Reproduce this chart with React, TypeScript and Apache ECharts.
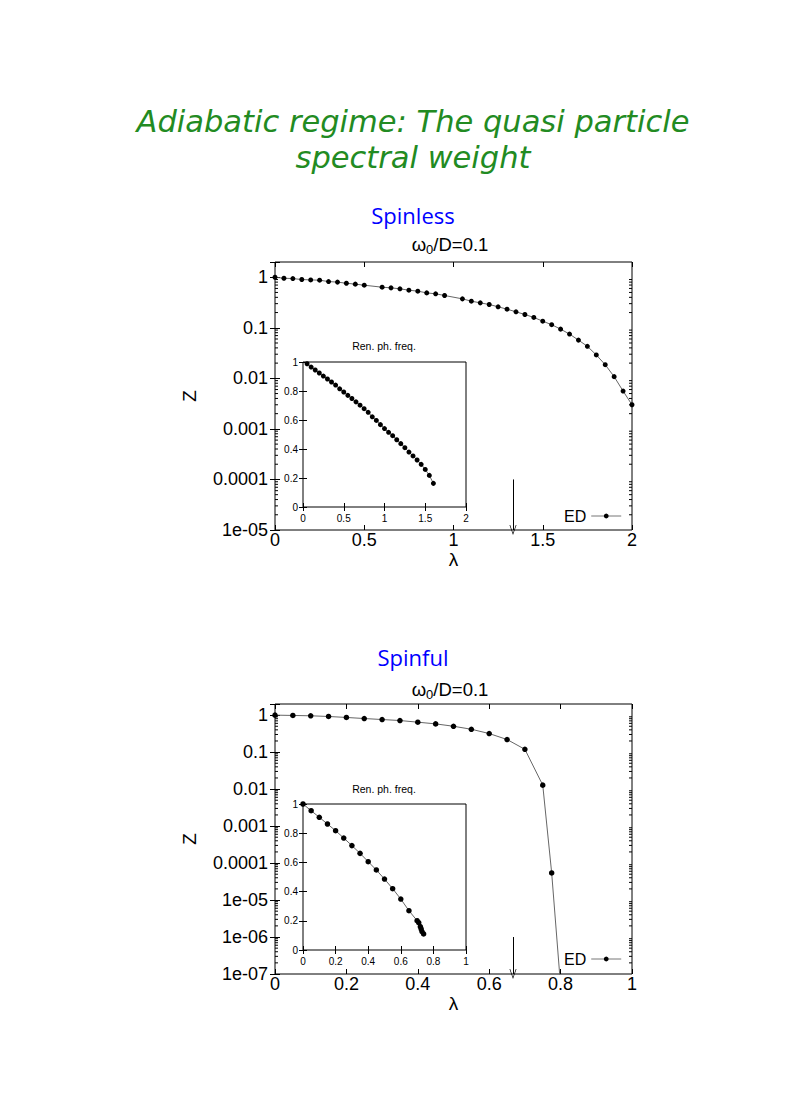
import React, { useEffect, useRef } from 'react';
import * as echarts from 'echarts';

// ---------- data ----------
const topMainLambda = [0, 0.05, 0.1, 0.15, 0.2, 0.25, 0.3, 0.35, 0.4, 0.45, 0.5, 0.6, 0.65, 0.7, 0.75, 0.8, 0.85, 0.9, 0.95, 1.05, 1.1, 1.15, 1.2, 1.25, 1.3, 1.35, 1.4, 1.45, 1.5, 1.55, 1.6, 1.65, 1.7, 1.75, 1.8, 1.85, 1.9, 1.95, 2.0];
const topMainZ = [1.0, 0.955, 0.94, 0.9, 0.885, 0.873, 0.82, 0.8, 0.76, 0.73, 0.695, 0.635, 0.616, 0.589, 0.554, 0.53, 0.49, 0.469, 0.435, 0.373, 0.336, 0.311, 0.289, 0.26, 0.233, 0.207, 0.183, 0.16, 0.135, 0.115, 0.094, 0.075, 0.057, 0.043, 0.029, 0.0186, 0.0108, 0.0056, 0.003];

const topInsetLambda = [0.05, 0.1, 0.15, 0.2, 0.25, 0.3, 0.35, 0.4, 0.45, 0.5, 0.55, 0.6, 0.65, 0.7, 0.75, 0.8, 0.85, 0.9, 0.95, 1.0, 1.05, 1.1, 1.15, 1.2, 1.25, 1.3, 1.35, 1.4, 1.45, 1.5, 1.55, 1.6];
const topInsetFreq = [0.988, 0.965, 0.945, 0.924, 0.903, 0.883, 0.862, 0.841, 0.815, 0.793, 0.77, 0.748, 0.725, 0.702, 0.678, 0.653, 0.622, 0.597, 0.568, 0.541, 0.515, 0.492, 0.464, 0.437, 0.409, 0.379, 0.352, 0.324, 0.294, 0.259, 0.218, 0.163];

const botMainLambda = [0, 0.05, 0.1, 0.15, 0.2, 0.25, 0.3, 0.35, 0.4, 0.45, 0.5, 0.55, 0.6, 0.65, 0.7, 0.75, 0.775, 0.8];
const botMainZ = [1.0, 0.98, 0.96, 0.92, 0.865, 0.81, 0.76, 0.715, 0.645, 0.58, 0.5, 0.415, 0.318, 0.219, 0.119, 0.0128, 5.4e-5, 4.7e-8];

const botInsetLambda = [0, 0.05, 0.1, 0.15, 0.2, 0.25, 0.3, 0.35, 0.4, 0.45, 0.5, 0.55, 0.6, 0.65, 0.7, 0.71, 0.72, 0.725, 0.73, 0.74];
const botInsetFreq = [1.0, 0.954, 0.909, 0.863, 0.817, 0.767, 0.715, 0.662, 0.605, 0.548, 0.486, 0.42, 0.349, 0.269, 0.201, 0.187, 0.16, 0.144, 0.126, 0.11];

const logTickLabels = ['1', '0.1', '0.01', '0.001', '0.0001', '1e-05', '1e-06', '1e-07'];
const minorMultipliers = [2, 3, 4, 5, 6, 7, 8, 9];
const topDecades = [-5, -4, -3, -2, -1];
const botDecades = [-7, -6, -5, -4, -3, -2, -1];

const topArrowLambda = 4 / 3;
const topArrowZ = [1e-4, 1e-5];
const botArrowLambda = 2 / 3;
const botArrowZ = [1e-6, 1e-7];

// ---------- helpers ----------
const FONT = '"Liberation Sans", Arial, Helvetica, sans-serif';
const TITLE_FONT = '"DejaVu Sans", sans-serif';
const SUB_FONT = '"Open Sans", sans-serif';
const ARROW = 'path://M0,10 L5,0 L10,10 L9,10 L5,2 L1,10 Z';

const pairs = (xs: number[], ys: number[]) => xs.map((x, i) => [x, ys[i]]);

function minorValues(decades: number[]) {
  const out: number[][] = [];
  decades.forEach((d) => minorMultipliers.forEach((m) => out.push([0, m * Math.pow(10, d)])));
  return out;
}

function logLabel(v: number) {
  const e = Math.log10(v);
  const r = Math.round(e);
  if (Math.abs(e - r) > 1e-6) return '';
  return logTickLabels[-r] ?? '';
}

function xAxes(gridIndex: number, max: number, interval: number, inset: boolean) {
  const common: any = {
    type: 'value', gridIndex, min: 0, max, interval,
    axisLine: { show: false }, splitLine: { show: false },
    axisTick: { show: true, inside: true, length: inset ? 4 : 5, lineStyle: { color: '#000', width: 1 } },
  };
  const bottom: any = {
    ...common, position: 'bottom',
    axisLabel: { show: true, fontSize: inset ? 10 : 18, color: '#000', fontFamily: FONT, margin: inset ? 6 : 1 },
  };
  if (!inset) {
    bottom.name = 'λ';
    bottom.nameLocation = 'middle';
    bottom.nameGap = 3;
    bottom.nameTextStyle = { fontSize: 19, color: '#000', fontFamily: FONT };
  }
  return [bottom, { ...common, position: 'top', axisLabel: { show: false } }];
}

function logYAxes(gridIndex: number, min: number, splitNumber: number) {
  const common: any = {
    type: 'log', logBase: 10, gridIndex, min, max: 2, splitNumber,
    axisLine: { show: false }, splitLine: { show: false }, minorSplitLine: { show: false },
    axisTick: { show: true, inside: true, length: 5, lineStyle: { color: '#000', width: 1 } },
    minorTick: { show: false },
  };
  return [
    {
      ...common, position: 'left',
      axisLabel: { show: true, fontSize: 18, color: '#000', fontFamily: FONT, margin: 7, formatter: logLabel },
      name: 'Z', nameLocation: 'middle', nameRotate: 90, nameGap: 76,
      nameTextStyle: { fontSize: 19, color: '#000', fontFamily: FONT },
    },
    { ...common, position: 'right', axisLabel: { show: false } },
  ];
}

function insetYAxes(gridIndex: number) {
  const common: any = {
    type: 'value', gridIndex, min: 0, max: 1, interval: 0.2,
    axisLine: { show: false }, splitLine: { show: false },
    axisTick: { show: true, inside: true, length: 4, lineStyle: { color: '#000', width: 1 } },
  };
  return [
    { ...common, position: 'left', axisLabel: { show: true, fontSize: 10, color: '#000', fontFamily: FONT, margin: 5 } },
    { ...common, position: 'right', axisLabel: { show: false } },
  ];
}

function arrowMark(lambda: number, z: number[]) {
  return {
    silent: true,
    symbol: ['none', ARROW],
    symbolSize: [7, 10],
    lineStyle: { color: '#000', width: 1, type: 'solid' },
    label: { show: false },
    emphasis: { disabled: true },
    data: [[{ coord: [lambda, z[0]] }, { coord: [lambda, z[1]] }]],
  };
}

function lineSeries(name: string, xi: number, yi: number, data: number[][], size: number, mark?: any) {
  const s: any = {
    type: 'line', name, xAxisIndex: xi, yAxisIndex: yi, data,
    symbol: 'circle', symbolSize: size, showSymbol: true, clip: true,
    lineStyle: { color: '#555', width: 0.9 },
    itemStyle: { color: '#000' },
    emphasis: { disabled: true },
    z: 3,
  };
  if (mark) s.markLine = mark;
  return s;
}

function minorTickSeries(xi: number, yi: number, xMax: number, decades: number[]) {
  return {
    type: 'custom', xAxisIndex: xi, yAxisIndex: yi, silent: true, clip: false, z: 1,
    data: minorValues(decades),
    renderItem: (_p: any, api: any) => {
      const v = api.value(1);
      const l = api.coord([0, v]);
      const r = api.coord([xMax, v]);
      return {
        type: 'group',
        children: [
          { type: 'line', shape: { x1: l[0], y1: l[1], x2: l[0] + 3, y2: l[1] }, style: { stroke: '#000', lineWidth: 1 } },
          { type: 'line', shape: { x1: r[0] - 3, y1: r[1], x2: r[0], y2: r[1] }, style: { stroke: '#000', lineWidth: 1 } },
        ],
      };
    },
  };
}

function txt(text: string, x: number, y: number, size: number, color = '#000', family = FONT, italic = false, lineHeight?: number) {
  const style: any = {
    text, fill: color, fontSize: size, fontFamily: family, fontStyle: italic ? 'italic' : 'normal',
    textAlign: 'center', textVerticalAlign: 'middle',
  };
  if (lineHeight) style.lineHeight = lineHeight;
  return { type: 'text', x, y, silent: true, style };
}

function omegaText(x: number, y: number) {
  return {
    type: 'text', x, y, silent: true,
    style: {
      text: '{a|ω}{s|0}{a|/D=0.1}',
      textAlign: 'center', textVerticalAlign: 'middle',
      rich: {
        a: { fontSize: 18.5, fontFamily: FONT, fill: '#000', lineHeight: 24, verticalAlign: 'middle' },
        s: { fontSize: 13, fontFamily: FONT, fill: '#000', lineHeight: 24, verticalAlign: 'bottom' },
      },
    },
  };
}

const legendCommon = {
  data: ['ED'], align: 'right', itemWidth: 30, itemHeight: 6, selectedMode: false, padding: 0,
  textStyle: { fontSize: 16, color: '#000', fontFamily: FONT },
  lineStyle: { color: '#777', width: 1 },
  itemStyle: { color: '#000' },
};

export default function App() {
  const ref = useRef<HTMLDivElement>(null);
  useEffect(() => {
    if (!ref.current) return;
    const chart = echarts.init(ref.current, undefined, { renderer: 'svg' });
    const option: any = {
      animation: false,
      backgroundColor: '#fff',
      grid: [
        { left: 275, top: 262, width: 357, height: 268, show: true, borderColor: '#000', borderWidth: 1, backgroundColor: 'transparent' },
        { left: 303, top: 362, width: 163, height: 145, show: true, borderColor: '#000', borderWidth: 1, backgroundColor: 'transparent' },
        { left: 275, top: 704, width: 357, height: 270, show: true, borderColor: '#000', borderWidth: 1, backgroundColor: 'transparent' },
        { left: 303, top: 804, width: 163, height: 146, show: true, borderColor: '#000', borderWidth: 1, backgroundColor: 'transparent' },
      ],
      xAxis: [
        ...xAxes(0, 2, 0.5, false),
        ...xAxes(1, 2, 0.5, true),
        ...xAxes(2, 1, 0.2, false),
        ...xAxes(3, 1, 0.2, true),
      ],
      yAxis: [
        ...logYAxes(0, 1e-5, 6),
        ...insetYAxes(1),
        ...logYAxes(2, 1e-7, 8),
        ...insetYAxes(3),
      ],
      legend: [
        { ...legendCommon, left: 564, top: 508 },
        { ...legendCommon, left: 564, top: 951 },
      ],
      series: [
        lineSeries('ED', 0, 0, pairs(topMainLambda, topMainZ), 5, arrowMark(topArrowLambda, topArrowZ)),
        lineSeries('inset-top', 2, 2, pairs(topInsetLambda, topInsetFreq), 5),
        lineSeries('ED', 4, 4, pairs(botMainLambda, botMainZ), 5.5, arrowMark(botArrowLambda, botArrowZ)),
        lineSeries('inset-bottom', 6, 6, pairs(botInsetLambda, botInsetFreq), 5.5),
        minorTickSeries(0, 0, 2, topDecades),
        minorTickSeries(4, 4, 1, botDecades),
      ],
      graphic: [
        txt('Adiabatic regime: The quasi particle\nspectral weight', 413, 139, 30.5, '#228B22', TITLE_FONT, true, 36),
        txt('Spinless', 413, 215, 22, '#0000FF', SUB_FONT),
        txt('Spinful', 413, 657, 22, '#0000FF', SUB_FONT),
        omegaText(450, 244),
        omegaText(450, 689),
        txt('Ren. ph. freq.', 384, 346, 10.5),
        txt('Ren. ph. freq.', 384, 789, 10.5),
      ],
    };
    chart.setOption(option);
    return () => chart.dispose();
  }, []);
  return <div ref={ref} style={{ position: 'absolute', left: 0, top: 0, width: 786, height: 1111 }} />;
}
